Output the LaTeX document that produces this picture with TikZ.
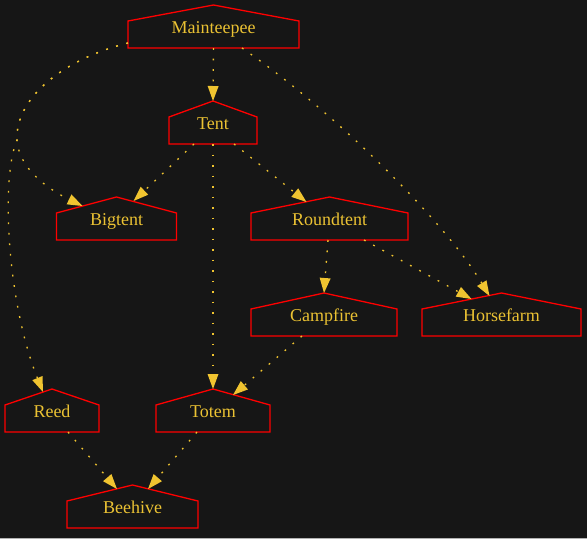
\documentclass[tikz,border=0pt]{standalone}
\usepackage{fontspec}
\setmainfont{Liberation Serif}
\usetikzlibrary{arrows.meta,calc}
\definecolor{bgc}{HTML}{161616}
\definecolor{txt}{HTML}{EBC233}
\definecolor{edg}{HTML}{F0C430}
\definecolor{hred}{HTML}{FF0000}
\tikzset{
  hbox/.style={inner sep=0pt,outer sep=0pt,minimum height=43pt},
  houseline/.style={draw=hred,line width=1.3pt,line join=miter},
  lbl/.style={anchor=base,text=txt,font=\fontsize{18}{20}\selectfont,inner sep=0pt},
  conn/.style={draw=edg,line width=1.3pt,dash pattern=on 1.8pt off 8.7pt,
    -{Triangle[length=15pt,width=11pt,fill=edg,line width=0pt]}},
}
\newcommand\hse[2]{%
  \draw[houseline] ($(#1.north west)+(0,16)$) -- (#1.north) -- ($(#1.north east)+(0,16)$) -- (#1.south east) -- (#1.south west) -- cycle;
  \node[lbl] at ($(#1.north)+(0,28.5)$) {#2};}
\begin{document}
\begin{tikzpicture}[x=1pt,y=-1pt]
\fill[bgc] (0,0) rectangle (587,539);
\fill[black!60!white!50] (0,538) rectangle (587,539);
\useasboundingbox (0,0) rectangle (587,539);
% nodes
\node[hbox,minimum width=171pt] (mt) at (213.5,26.5) {};
\node[hbox,minimum width=88pt] (tent) at (213,122.5) {};
\node[hbox,minimum width=120pt] (bigtent) at (116.5,218.5) {};
\node[hbox,minimum width=157pt] (roundtent) at (329.5,218.5) {};
\node[hbox,minimum width=146pt] (campfire) at (324,314.5) {};
\node[hbox,minimum width=159pt] (horsefarm) at (501.5,314.5) {};
\node[hbox,minimum width=94pt] (reed) at (52,410.5) {};
\node[hbox,minimum width=114pt] (totem) at (213,410.5) {};
\node[hbox,minimum width=131pt] (beehive) at (132.5,506.5) {};
\hse{mt}{Mainteepee}
\hse{tent}{Tent}
\hse{bigtent}{Bigtent}
\hse{roundtent}{Roundtent}
\hse{campfire}{Campfire}
\hse{horsefarm}{Horsefarm}
\hse{reed}{Reed}
\hse{totem}{Totem}
\hse{beehive}{Beehive}
% edge end points
\coordinate (mtL) at ($(mt.south west)+(0,-5)$);
\coordinate (mtR) at ($(mt.south)+(28.5,0)$);
\coordinate (split) at (17,140);
\coordinate (btTip) at ($(bigtent.north)+(-34,9)$);
\coordinate (reTip) at ($(reed.north)+(-9,3)$);
\coordinate (hfTip1) at ($(horsefarm.north)+(-12,3)$);
\coordinate (hfTip2) at ($(horsefarm.north)+(-30,6)$);
\coordinate (tnL) at ($(tent.south)+(-19,0)$);
\coordinate (tnR) at ($(tent.south)+(21,0)$);
\coordinate (btTip2) at ($(bigtent.north)+(17,4)$);
\coordinate (rtTip) at ($(roundtent.north)+(-23,5)$);
\coordinate (rtS) at ($(roundtent.south)+(-1.5,0)$);
\coordinate (rtR) at ($(roundtent.south)+(34.5,0)$);
\coordinate (cfS) at ($(campfire.south)+(-22,0)$);
\coordinate (toTip) at ($(totem.north)+(20,6)$);
\coordinate (reS) at ($(reed.south)+(16,0)$);
\coordinate (toS) at ($(totem.south)+(-16,0)$);
\coordinate (bhTipL) at ($(beehive.north)+(-15.5,4)$);
\coordinate (bhTipR) at ($(beehive.north)+(15.5,4)$);
% edges
\draw[conn] (mt.south) -- (tent.north);
\draw[conn] (mtL) .. controls (60,60) and (15,100) .. (split) .. controls (19,170) and (50,190) .. (btTip);
\draw[conn] (mtL) .. controls (60,60) and (15,100) .. (split) .. controls (0,180) and (8,305) .. (reTip);
\draw[conn] (mtR) .. controls (335,112) and (445,222) .. (hfTip1);
\draw[conn] (tnL) -- (btTip2);
\draw[conn] (tnR) -- (rtTip);
\draw[conn] (tent.south) -- (totem.north);
\draw[conn] (rtS) -- (campfire.north);
\draw[conn] (rtR) -- (hfTip2);
\draw[conn] (cfS) -- (toTip);
\draw[conn] (reS) -- (bhTipL);
\draw[conn] (toS) -- (bhTipR);
\end{tikzpicture}
\end{document}
